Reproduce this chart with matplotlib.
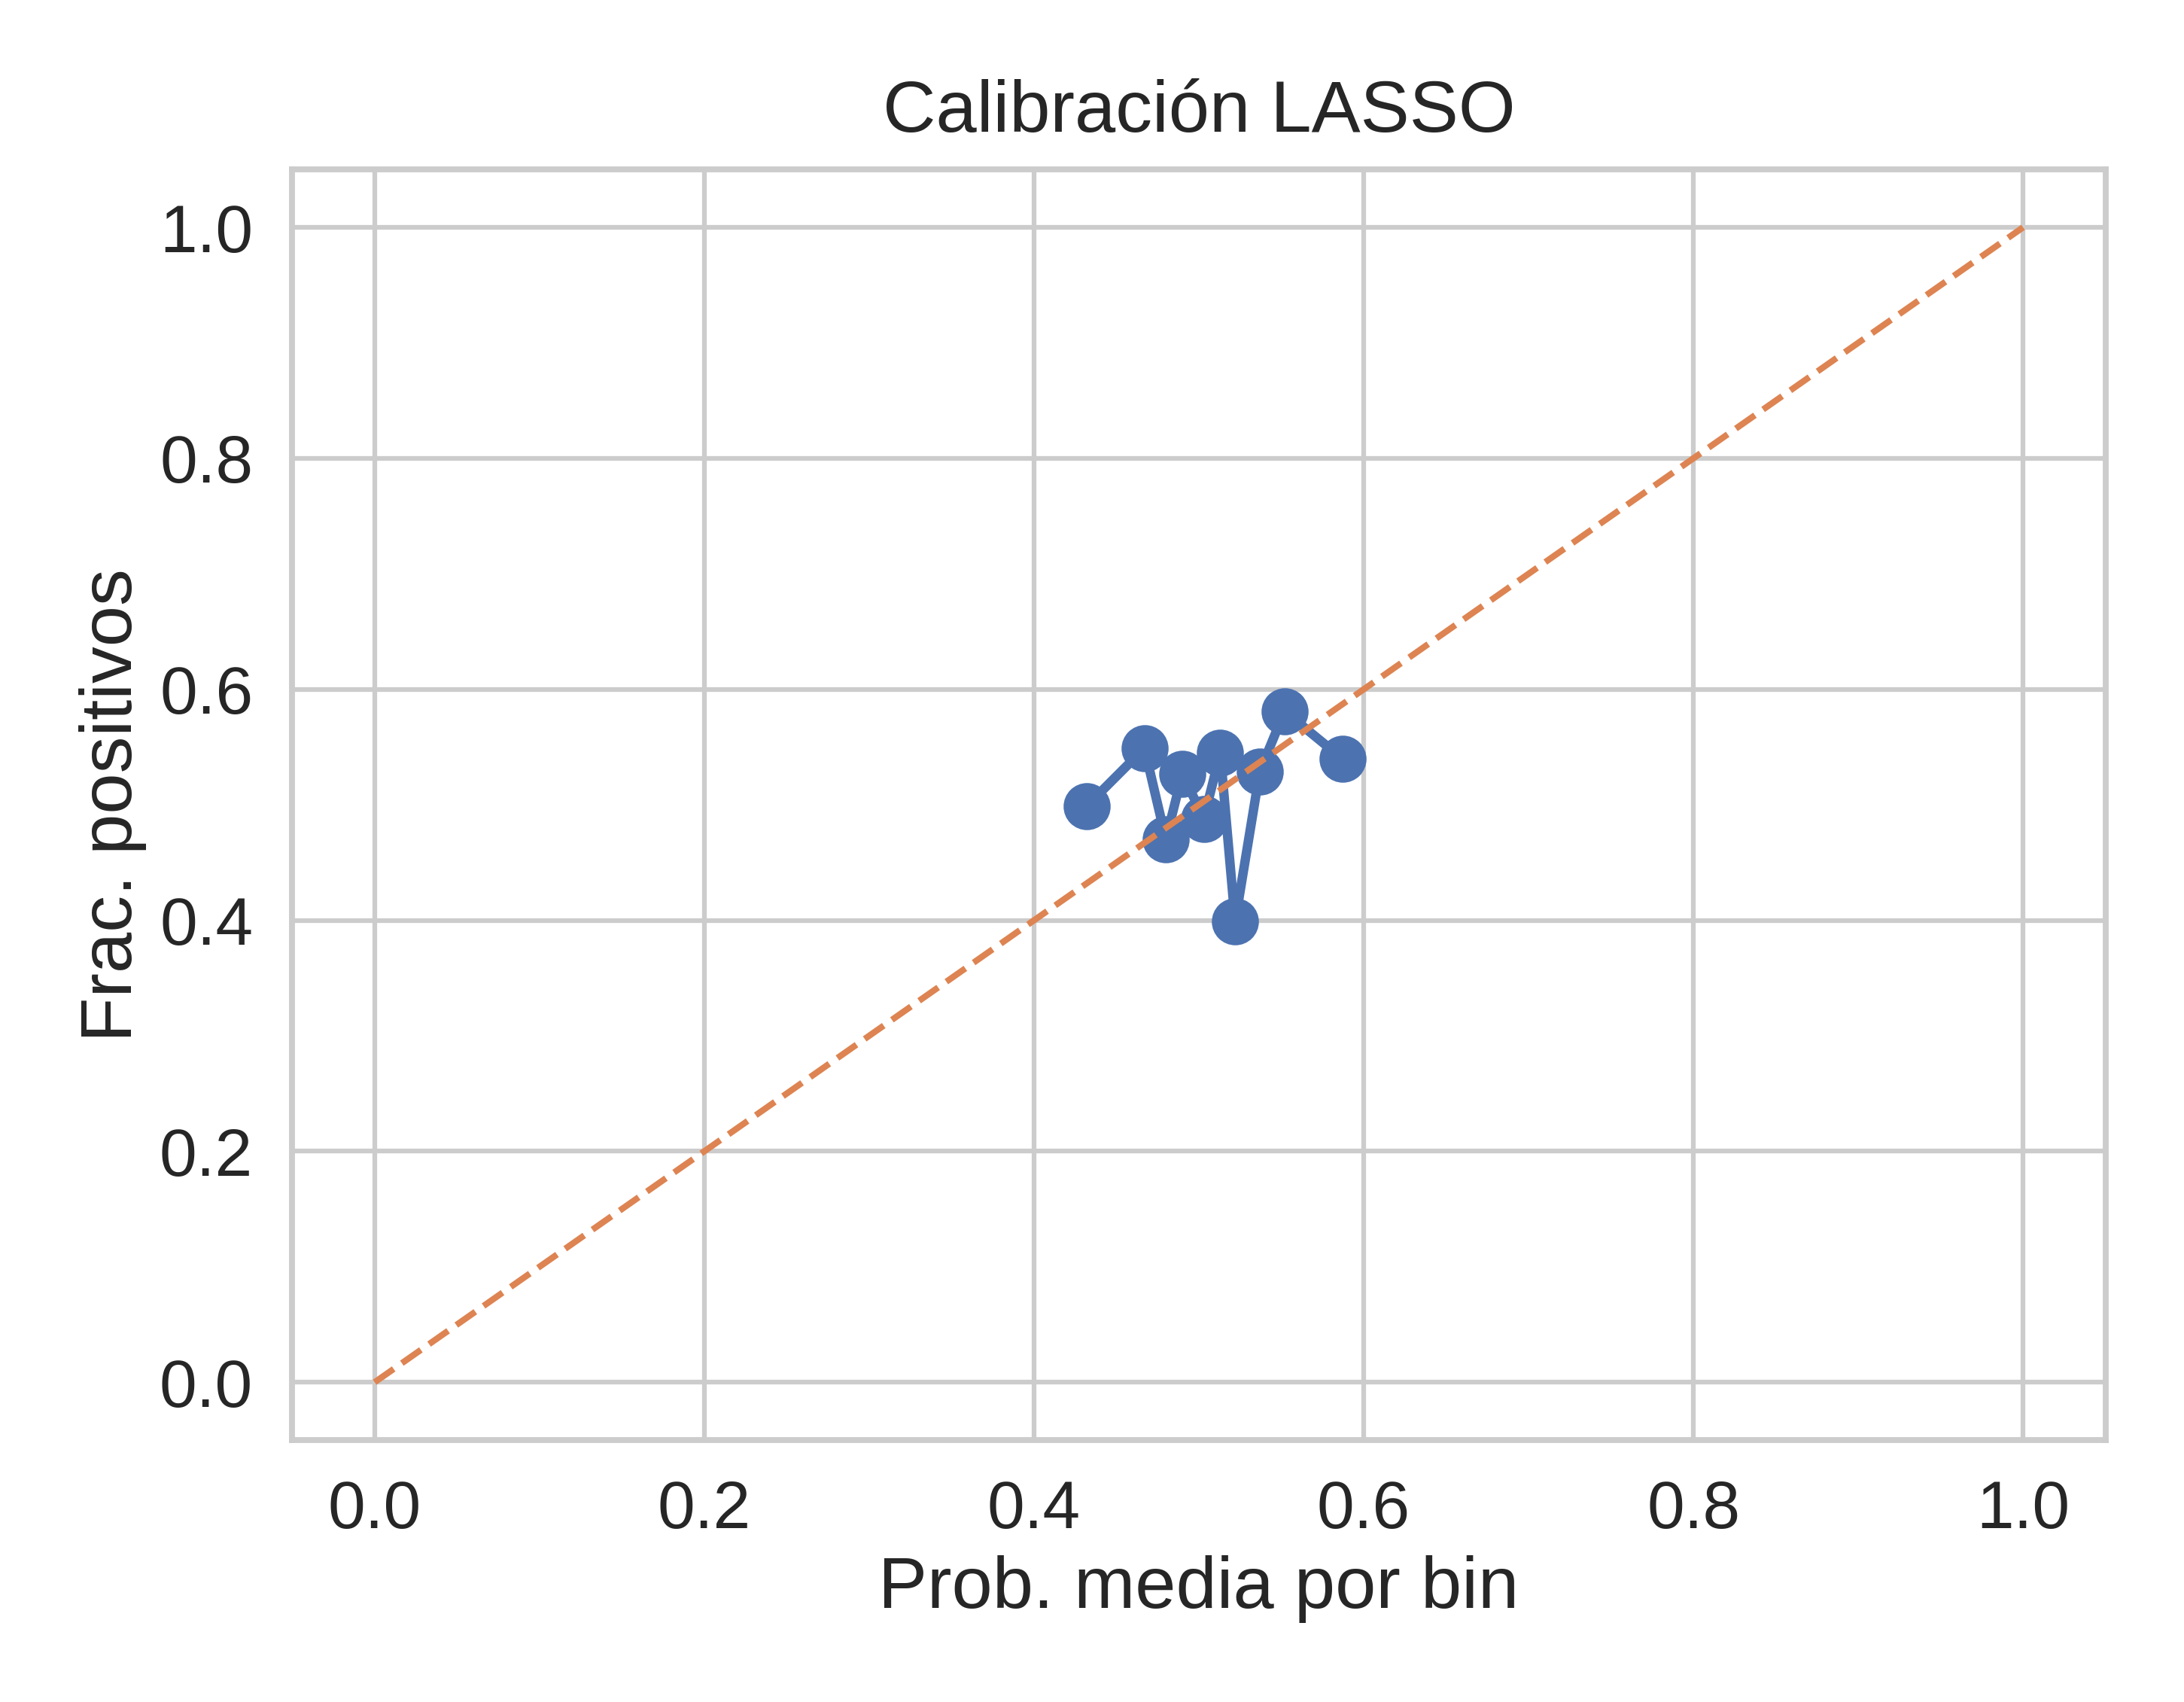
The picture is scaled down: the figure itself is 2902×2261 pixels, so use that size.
import matplotlib
matplotlib.use("Agg")
import matplotlib.pyplot as plt
import seaborn as sns

sns.set_theme(style="whitegrid", context="talk", font_scale=1.3)
plt.rcParams['font.family'] = ['Liberation Sans', 'DejaVu Sans']

prob_media = [0.432, 0.467, 0.480, 0.490, 0.503, 0.513, 0.522, 0.537, 0.552, 0.587]
frac_pos = [0.499, 0.549, 0.470, 0.527, 0.488, 0.545, 0.399, 0.529, 0.581, 0.540]
diag = [0, 1]

fig, ax = plt.subplots(figsize=(2903/300, 2261/300), dpi=300)
ax.plot(prob_media, frac_pos, marker="o", color="C0", markersize=14, linewidth=3)
ax.plot(diag, diag, linestyle="--", color="C1", linewidth=2)
ax.set_title("Calibración LASSO", pad=12)
ax.set_xlabel("Prob. media por bin")
ax.set_ylabel("Frac. positivos")
fig.tight_layout()
fig.savefig("out.png", dpi=300)
